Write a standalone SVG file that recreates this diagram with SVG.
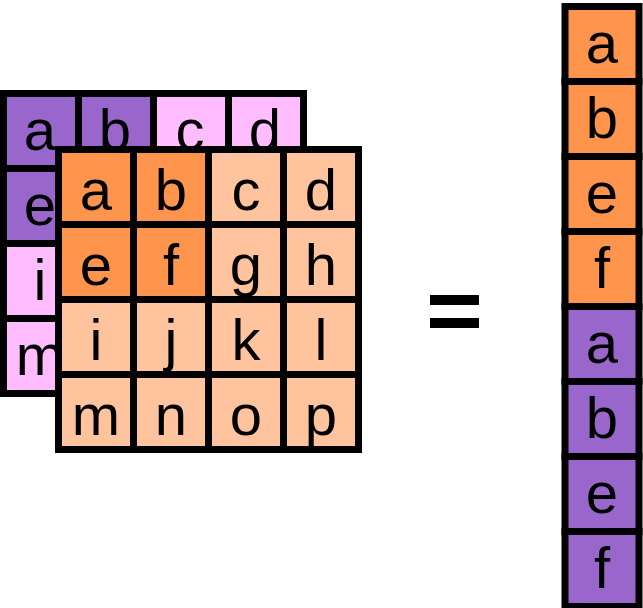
<svg xmlns="http://www.w3.org/2000/svg" width="643" height="608" viewBox="0 0 643 608">
<style>
rect.c{stroke:#000;stroke-width:7}
.p{fill:#9966CC}.k{fill:#FFBDFF}.o{fill:#FF944D}.l{fill:#FFC49E}
text{font-family:"Liberation Sans",Arial,sans-serif;font-size:58px;text-anchor:middle;fill:#000}
</style>
<rect width="643" height="608" fill="#fff"/>
<g id="back">
<rect class="c p" x="3.5" y="93.5" width="75" height="75"/><rect class="c p" x="78.5" y="93.5" width="75" height="75"/>
<rect class="c k" x="153.5" y="93.5" width="75" height="75"/><rect class="c k" x="228.5" y="93.5" width="75" height="75"/>
<rect class="c p" x="3.5" y="168.5" width="75" height="75"/><rect class="c k" x="3.5" y="243.5" width="75" height="75"/><rect class="c k" x="3.5" y="318.5" width="75" height="75"/>
<text x="40" y="150">a</text><text x="115" y="150">b</text><text x="190" y="150">c</text><text x="265" y="150">d</text>
<text x="40" y="225">e</text><text x="40" y="300">i</text><text x="40" y="375">m</text>
</g>
<g id="front">
<rect class="c o" x="58.5" y="149.5" width="75" height="75"/><rect class="c o" x="133.5" y="149.5" width="75" height="75"/>
<rect class="c l" x="208.5" y="149.5" width="75" height="75"/><rect class="c l" x="283.5" y="149.5" width="75" height="75"/>
<rect class="c o" x="58.5" y="224.5" width="75" height="75"/><rect class="c o" x="133.5" y="224.5" width="75" height="75"/>
<rect class="c l" x="208.5" y="224.5" width="75" height="75"/><rect class="c l" x="283.5" y="224.5" width="75" height="75"/>
<rect class="c l" x="58.5" y="299.5" width="75" height="75"/><rect class="c l" x="133.5" y="299.5" width="75" height="75"/>
<rect class="c l" x="208.5" y="299.5" width="75" height="75"/><rect class="c l" x="283.5" y="299.5" width="75" height="75"/>
<rect class="c l" x="58.5" y="374.5" width="75" height="75"/><rect class="c l" x="133.5" y="374.5" width="75" height="75"/>
<rect class="c l" x="208.5" y="374.5" width="75" height="75"/><rect class="c l" x="283.5" y="374.5" width="75" height="75"/>
<text x="96" y="210">a</text><text x="171" y="210">b</text><text x="246" y="210">c</text><text x="321" y="210">d</text>
<text x="96" y="285">e</text><text x="171" y="285">f</text><text x="246" y="285">g</text><text x="321" y="285">h</text>
<text x="96" y="360">i</text><text x="171" y="360">j</text><text x="246" y="360">k</text><text x="321" y="360">l</text>
<text x="96" y="435">m</text><text x="171" y="435">n</text><text x="246" y="435">o</text><text x="321" y="435">p</text>
</g>
<g id="equals">
<rect x="430" y="295" width="49" height="10" fill="#000"/><rect x="430" y="318" width="49" height="10" fill="#000"/>
</g>
<g id="column">
<rect class="c o" x="565" y="6.5" width="74" height="75"/><rect class="c o" x="565" y="81.5" width="74" height="75"/>
<rect class="c o" x="565" y="156.5" width="74" height="75"/><rect class="c o" x="565" y="231.5" width="74" height="75"/>
<rect class="c p" x="565" y="306.5" width="74" height="75"/><rect class="c p" x="565" y="381.5" width="74" height="75"/>
<rect class="c p" x="565" y="456.5" width="74" height="75"/><rect class="c p" x="565" y="531.5" width="74" height="75"/>
<text x="602" y="63">a</text><text x="602" y="138">b</text><text x="602" y="213">e</text><text x="602" y="288">f</text>
<text x="602" y="363">a</text><text x="602" y="438">b</text><text x="602" y="513">e</text><text x="602" y="588">f</text>
</g>
</svg>
